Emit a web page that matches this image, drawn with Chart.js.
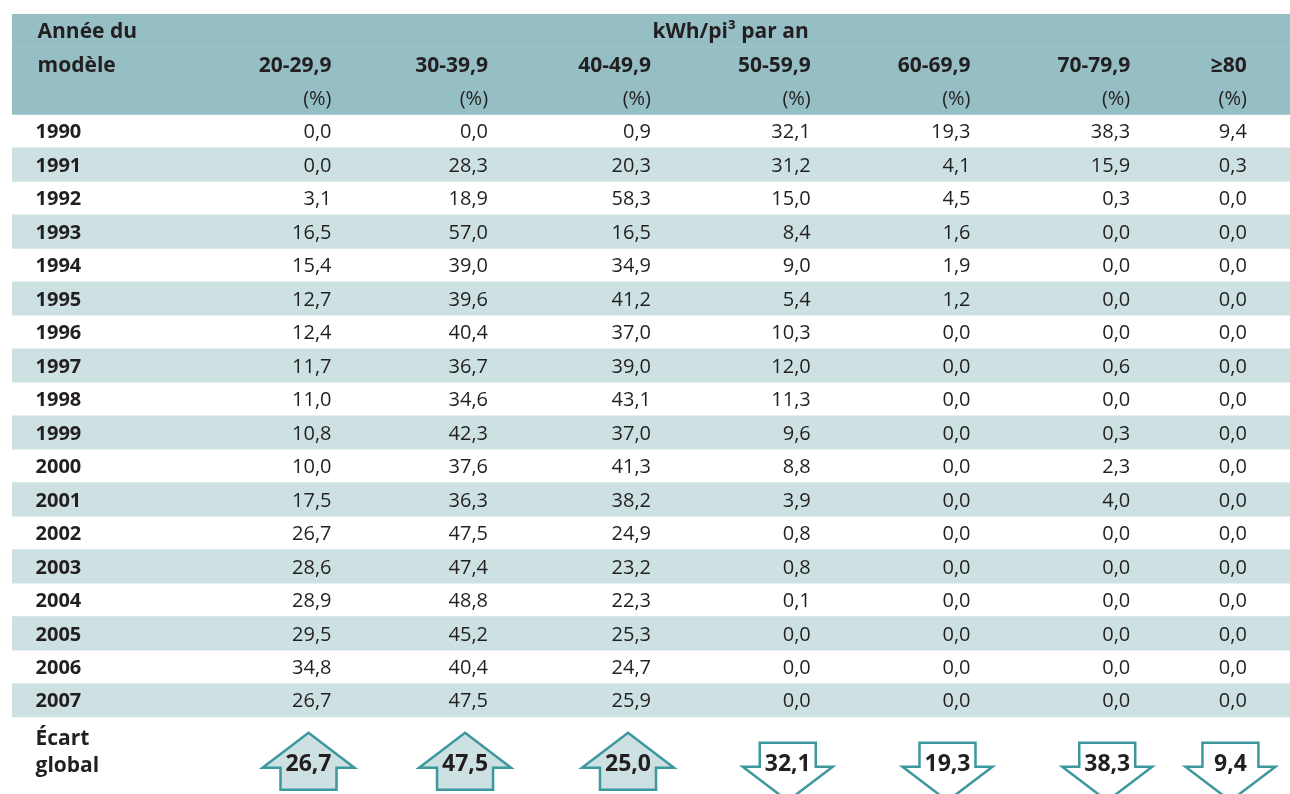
<!DOCTYPE html>
<html lang="fr">
<head>
<meta charset="utf-8">
<title>Année du modèle – kWh/pi³ par an</title>
<script src="https://cdn.jsdelivr.net/npm/chart.js@4.4.1/dist/chart.umd.min.js"></script>
<style>
  html, body { margin: 0; padding: 0; background: #ffffff; }
  #wrap { position: relative; width: 1290px; height: 794px; }
</style>
</head>
<body>
<div id="wrap"><canvas id="tableau"></canvas></div>
<script>
// Données du tableau
const annees = [1990, 1991, 1992, 1993, 1994, 1995, 1996, 1997, 1998, 1999, 2000, 2001, 2002, 2003, 2004, 2005, 2006, 2007];
const classes = ['20-29,9', '30-39,9', '40-49,9', '50-59,9', '60-69,9', '70-79,9', '≥80'];
const titre = 'kWh/pi³ par an';

const p20 = [0.0, 0.0, 3.1, 16.5, 15.4, 12.7, 12.4, 11.7, 11.0, 10.8, 10.0, 17.5, 26.7, 28.6, 28.9, 29.5, 34.8, 26.7];
const p30 = [0.0, 28.3, 18.9, 57.0, 39.0, 39.6, 40.4, 36.7, 34.6, 42.3, 37.6, 36.3, 47.5, 47.4, 48.8, 45.2, 40.4, 47.5];
const p40 = [0.9, 20.3, 58.3, 16.5, 34.9, 41.2, 37.0, 39.0, 43.1, 37.0, 41.3, 38.2, 24.9, 23.2, 22.3, 25.3, 24.7, 25.9];
const p50 = [32.1, 31.2, 15.0, 8.4, 9.0, 5.4, 10.3, 12.0, 11.3, 9.6, 8.8, 3.9, 0.8, 0.8, 0.1, 0.0, 0.0, 0.0];
const p60 = [19.3, 4.1, 4.5, 1.6, 1.9, 1.2, 0.0, 0.0, 0.0, 0.0, 0.0, 0.0, 0.0, 0.0, 0.0, 0.0, 0.0, 0.0];
const p70 = [38.3, 15.9, 0.3, 0.0, 0.0, 0.0, 0.0, 0.6, 0.0, 0.3, 2.3, 4.0, 0.0, 0.0, 0.0, 0.0, 0.0, 0.0];
const p80 = [9.4, 0.3, 0.0, 0.0, 0.0, 0.0, 0.0, 0.0, 0.0, 0.0, 0.0, 0.0, 0.0, 0.0, 0.0, 0.0, 0.0, 0.0];

const ecartGlobal = [26.7, 47.5, 25.0, -32.1, -19.3, -38.3, -9.4];

const series = [p20, p30, p40, p50, p60, p70, p80];

// Mise en page (unités des axes)
const colDroite = [2, 2.98, 4, 5, 6, 7, 7.73]; // bord droit de chaque colonne
const colGauche = 0.16;
const LIGNES_ENTETE = 3;
const LIGNE_ECART = 22.37;

const police = "'Open Sans', sans-serif";
const encre = '#231f20';
const teinteEntete = '#95bfc5';
const teinteBande = '#cde1e3';
const teinteFleche = '#3d989e';

const fmt = (v) => Math.abs(v).toFixed(1).replace('.', ',');

// Bandeau d'en-tête + bandes alternées
const bandeau = [0, 1, 2].map(r => ({ x: [0, 8], y: r + 0.5 }));
const bandes = annees
    .map((a, i) => (i % 2 === 1 ? { x: [0, 8], y: LIGNES_ENTETE + i + 0.5 } : null))
    .filter(Boolean);

function texte(ctx, str, x, y, taille, gras, align) {
    ctx.font = (gras ? 'bold ' : '') + taille + 'px ' + police;
    ctx.textAlign = align;
    ctx.textBaseline = 'alphabetic';
    ctx.fillStyle = encre;
    ctx.fillText(str, x, y + taille * 0.36);
}

function fleche(ctx, cx, cy, haut) {
    ctx.beginPath();
    if (haut) {
        ctx.moveTo(cx, cy - 30);
        ctx.lineTo(cx + 46, cy + 5);
        ctx.lineTo(cx + 28, cy + 5);
        ctx.lineTo(cx + 28, cy + 27);
        ctx.lineTo(cx - 28, cy + 27);
        ctx.lineTo(cx - 28, cy + 5);
        ctx.lineTo(cx - 46, cy + 5);
    } else {
        ctx.moveTo(cx - 28, cy - 20);
        ctx.lineTo(cx + 28, cy - 20);
        ctx.lineTo(cx + 28, cy + 4);
        ctx.lineTo(cx + 45, cy + 4);
        ctx.lineTo(cx, cy + 38);
        ctx.lineTo(cx - 45, cy + 4);
        ctx.lineTo(cx - 28, cy + 4);
    }
    ctx.closePath();
    ctx.fillStyle = haut ? teinteBande : '#ffffff';
    ctx.fill();
    ctx.lineWidth = 2.5;
    ctx.lineJoin = 'miter';
    ctx.strokeStyle = teinteFleche;
    ctx.stroke();
}

const textesTableau = {
    id: 'textesTableau',
    afterDatasetsDraw(chart) {
        const { ctx, scales: { x, y } } = chart;
        const px = (v) => x.getPixelForValue(v);
        const py = (v) => y.getPixelForValue(v);
        ctx.save();

        // En-tête
        texte(ctx, 'Année du', px(colGauche), py(0.5), 21, true, 'left');
        texte(ctx, 'modèle', px(colGauche), py(1.5), 21, true, 'left');
        texte(ctx, titre, px(colDroite[3]) - 2, py(0.5), 21, true, 'right');
        classes.forEach((c, j) => {
            texte(ctx, c, px(colDroite[j]), py(1.5), 21, true, 'right');
            texte(ctx, '(%)', px(colDroite[j]), py(2.5), 20, false, 'right');
        });

        // Corps
        annees.forEach((a, i) => {
            const r = LIGNES_ENTETE + i + 0.5;
            texte(ctx, String(a), px(colGauche) - 2, py(r), 20, true, 'left');
            series.forEach((s, j) => {
                texte(ctx, fmt(s[i]), px(colDroite[j]), py(r), 20, false, 'right');
            });
        });

        // Écart global
        texte(ctx, 'Écart', px(colGauche) - 2, py(21.62), 21, true, 'left');
        texte(ctx, 'global', px(colGauche) - 2, py(22.43), 21, true, 'left');
        ecartGlobal.forEach((v, j) => {
            const str = fmt(v);
            ctx.font = 'bold 23px ' + police;
            const w = ctx.measureText(str).width;
            const droite = px(colDroite[j]);
            const cy = py(LIGNE_ECART);
            fleche(ctx, droite - w / 2, cy, v > 0);
            texte(ctx, str, droite, cy, 23, true, 'right');
        });

        ctx.restore();
    }
};

const ctx = document.getElementById('tableau').getContext('2d');
new Chart(ctx, {
    type: 'bar',
    data: {
        datasets: [
            {
                label: 'entete',
                data: bandeau,
                backgroundColor: teinteEntete
            },
            {
                label: 'bandes',
                data: bandes,
                backgroundColor: teinteBande
            }
        ]
    },
    options: {
        indexAxis: 'y',
        responsive: true,
        maintainAspectRatio: false,
        animation: false,
        layout: { padding: { top: 14, left: 12, right: 0, bottom: 0 } },
        datasets: {
            bar: {
                grouped: false,
                borderWidth: 0,
                borderSkipped: false,
                categoryPercentage: 1,
                barPercentage: 1
            }
        },
        scales: {
            x: { type: 'linear', min: 0, max: 8, display: false },
            y: {
                type: 'linear', min: 0, max: 23.3, reverse: true, offset: false,
                display: false, ticks: { stepSize: 100 }
            }
        },
        plugins: {
            legend: { display: false },
            tooltip: { enabled: false }
        }
    },
    plugins: [textesTableau]
});
</script>
</body>
</html>
